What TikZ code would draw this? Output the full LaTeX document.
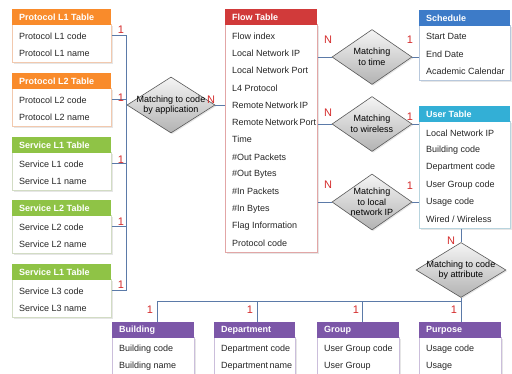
\documentclass[tikz,border=0pt]{standalone}
\usepackage{fontspec}
\setmainfont{Liberation Sans}
\usetikzlibrary{shapes.geometric,shadows}
\definecolor{corange}{HTML}{F98B2B}
\definecolor{borange}{HTML}{F2C9AE}
\definecolor{cgreen}{HTML}{8FC346}
\definecolor{bgreen}{HTML}{D2DCC4}
\definecolor{cred}{HTML}{D13A3A}
\definecolor{bred}{HTML}{E2A6A6}
\definecolor{cblue}{HTML}{3D7BC8}
\definecolor{bblue}{HTML}{B8C8DC}
\definecolor{ccyan}{HTML}{33AFD6}
\definecolor{bcyan}{HTML}{B8D4DE}
\definecolor{cpurple}{HTML}{7C57A8}
\definecolor{bpurple}{HTML}{CBBEDB}
\definecolor{conncol}{HTML}{5B7AA8}
\definecolor{labred}{HTML}{D42A2A}
\tikzset{
  hdrbox/.style={draw=none, minimum height=15.5pt, inner sep=0pt},
  hdrtext/.style={text=white, font=\bfseries\fontsize{9}{10}\selectfont, inner sep=0pt},
  bodybox/.style={fill=white, line width=0.6pt, inner sep=0pt,
    drop shadow={shadow xshift=1.3pt, shadow yshift=-1.5pt, opacity=0.2, fill=gray}},
  rowtext/.style={font=\fontsize{9}{10}\selectfont, inner sep=0pt, text=black!85},
  dia/.style={shape=diamond, inner sep=0pt, draw=gray!70!black, line width=0.6pt,
    top color=gray!8, bottom color=gray!60,
    drop shadow={shadow xshift=1.2pt, shadow yshift=-1.2pt, opacity=0.2, fill=gray}},
  diatext/.style={align=center, font=\fontsize{9}{10.5}\selectfont, inner sep=0pt},
  conn/.style={draw=conncol, line width=0.8pt},
  lab/.style={text=labred, font=\fontsize{11}{12}\selectfont, inner sep=0pt}
}
\newcommand{\ertable}[9]{%
  \pgfmathsetmacro{\bodyh}{20+(#8-1)*17.3}%
  \node[bodybox, draw=#6, minimum width=#4pt, minimum height=\bodyh pt, anchor=north west] (#1b) at (#2,#3+15.5) {};
  \node[hdrbox, fill=#5, minimum width=#4pt, anchor=north west] (#1h) at (#2,#3) {};
  \node[hdrtext, anchor=west] (#1t) at ([xshift=7pt]#1h.west) {#7};
  \foreach \r [count=\i] in {#9} {
    \node[rowtext, anchor=west] (#1r\i) at ([xshift=7pt, yshift={-(11+(\i-1)*17.3)*1pt}]#1h.south west) {\r};
  }
}
\begin{document}
\begin{tikzpicture}[x=1pt,y=-1pt]
\useasboundingbox (0,0) rectangle (512,374);
% left tables
\ertable{pa}{12}{9}{99}{corange}{borange}{Protocol L1 Table}{2}{Protocol L1 code,Protocol L1 name}
\ertable{pb}{12}{73}{99}{corange}{borange}{Protocol L2 Table}{2}{Protocol L2 code,Protocol L2 name}
\ertable{sa}{12}{137}{99}{cgreen}{bgreen}{Service L1 Table}{2}{Service L1 code,Service L1 name}
\ertable{sb}{12}{200}{99}{cgreen}{bgreen}{Service L2 Table}{2}{Service L2 code,Service L2 name}
\ertable{sc}{12}{264}{99}{cgreen}{bgreen}{Service L1 Table}{2}{Service L3 code,Service L3 name}
% flow table
\ertable{f}{225}{9}{92}{cred}{bred}{Flow Table}{13}{Flow index,Local Network IP,Local Network Port,L4 Protocol,Remote\,Network\,IP,Remote\,Network\,Port,Time,\#Out Packets,\#Out Bytes,\#In Packets,\#In Bytes,Flag Information,Protocol code}
% schedule & user
\ertable{sch}{419}{10}{91}{cblue}{bblue}{Schedule}{3}{Start Date,End Date,Academic Calendar}
\ertable{u}{419}{106}{91}{ccyan}{bcyan}{User Table}{6}{Local Network IP,Building code,Department code,User Group code,Usage code,Wired / Wireless}
% bottom tables
\ertable{bu}{112}{322}{82}{cpurple}{bpurple}{Building}{2}{Building code,Building name}
\ertable{de}{214}{322}{81}{cpurple}{bpurple}{Department}{2}{Department code,Department\,name}
\ertable{gr}{317}{322}{82}{cpurple}{bpurple}{Group}{2}{User Group code,User Group}
\ertable{pu}{419}{322}{82}{cpurple}{bpurple}{Purpose}{2}{Usage code,Usage}
% diamonds
\node[dia, minimum width=88pt, minimum height=56pt] (dapp) at (171,105) {};
\node[diatext] (dappt) at (dapp) {Matching to code\\by application};
\node[dia, minimum width=80pt, minimum height=55pt] (dtime) at (372,57) {};
\node[diatext] (dtimet) at (dtime) {Matching\\to time};
\node[dia, minimum width=80pt, minimum height=55pt] (dwl) at (372,124) {};
\node[diatext] (dwlt) at (dwl) {Matching\\to wireless};
\node[dia, minimum width=80pt, minimum height=56pt] (dip) at (372,202) {};
\node[diatext] (dipt) at (dip) {Matching\\to local\\network IP};
\node[dia, minimum width=90pt, minimum height=55pt] (datt) at (461,270) {};
\node[diatext] (dattt) at (datt) {Matching to code\\by attribute};
% connectors left
\draw[conn] (par1 -| pab.east) -| (dapp.west);
\draw[conn] (pbr1 -| pbb.east) -| (dapp.west);
\draw[conn] (sar1 -| sab.east) -| (dapp.west);
\draw[conn] (sbr1 -| sbb.east) -| (dapp.west);
\draw[conn] (scr1 -| scb.east) -| (dapp.west);
\draw[conn] (dapp.east) -- (dapp.east -| fb.west);
% right connectors
\draw[conn] (dtime.west -| fb.east) -- (dtime.west);
\draw[conn] (dtime.east) -- (dtime.east -| schb.west);
\draw[conn] (dwl.west -| fb.east) -- (dwl.west);
\draw[conn] (dwl.east) -- (dwl.east -| ub.west);
\draw[conn] (dip.west -| fb.east) -- (dip.west);
\draw[conn] (dip.east) -- (dip.east -| ub.west);
\draw[conn] (datt.north |- ub.south) -- (datt.north);
\draw[conn] (datt.south) -- ++(0,4) -| ([xshift=4pt]buh.north);
\draw[conn] (datt.south) -- ++(0,4) -| ([xshift=3pt]deh.north);
\draw[conn] (datt.south) -- ++(0,4) -| ([xshift=4pt]grh.north);
\draw[conn] (datt.south) -- (datt.south |- puh.north);
% cardinality labels
\node[lab] (l1) at (121,30) {1};
\node[lab] (l2) at (121,98) {1};
\node[lab] (l3) at (121,160) {1};
\node[lab] (l4) at (121,222) {1};
\node[lab] (l5) at (121,285) {1};
\node[lab] (ln1) at (211,100) {N};
\node[lab] (ln2) at (328,40) {N};
\node[lab] (l6) at (410,40) {1};
\node[lab] (ln3) at (328,113) {N};
\node[lab] (l7) at (410,117) {1};
\node[lab] (ln4) at (328,185) {N};
\node[lab] (l8) at (410,186) {1};
\node[lab] (ln5) at (451,241) {N};
\node[lab] (l9) at (150,310) {1};
\node[lab] (l10) at (250,310) {1};
\node[lab] (l11) at (356,310) {1};
\node[lab] (l12) at (454,310) {1};
\end{tikzpicture}
\end{document}
